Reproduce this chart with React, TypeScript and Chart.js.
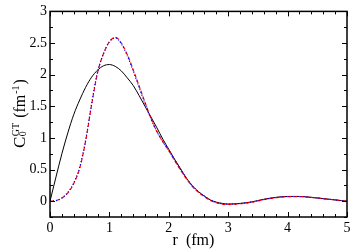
import { useEffect, useRef } from "react";
import { Chart, registerables } from "chart.js";

Chart.register(...registerables);

const rFine = [
  0, 0.1, 0.2, 0.3, 0.4, 0.5, 0.6, 0.7, 0.8, 0.9, 1.0, 1.1, 1.2, 1.3, 1.4, 1.5,
  1.6, 1.7, 1.8, 1.9, 2.0, 2.1, 2.2, 2.3, 2.4, 2.5, 2.6, 2.7, 2.8, 2.9, 3.0,
  3.2, 3.4, 3.6, 3.8, 4.0, 4.2, 4.4, 4.6, 4.8, 5.0,
];

const cBlack = [
  0, 0.38, 0.75, 1.08, 1.37, 1.6, 1.8, 1.96, 2.07, 2.14, 2.16, 2.13, 2.06, 1.95,
  1.83, 1.67, 1.5, 1.33, 1.16, 0.98, 0.82, 0.66, 0.51, 0.36, 0.24, 0.15, 0.08,
  0.02, -0.015, -0.035, -0.045, -0.035, -0.01, 0.03, 0.06, 0.075, 0.075, 0.06,
  0.04, 0.02, 0.0,
];

const cRed = [
  0, 0.01, 0.05, 0.13, 0.28, 0.52, 0.95, 1.52, 2.03, 2.33, 2.52, 2.59, 2.5, 2.32,
  2.08, 1.82, 1.56, 1.31, 1.1, 0.94, 0.8, 0.64, 0.49, 0.35, 0.23, 0.14, 0.07,
  0.01, -0.025, -0.045, -0.05, -0.04, -0.015, 0.025, 0.055, 0.072, 0.073, 0.06,
  0.04, 0.02, 0.0,
];

const cBlue = [
  0, 0.01, 0.05, 0.14, 0.29, 0.54, 0.97, 1.54, 2.04, 2.33, 2.52, 2.58, 2.49, 2.3,
  2.06, 1.8, 1.54, 1.3, 1.1, 0.94, 0.8, 0.65, 0.5, 0.36, 0.24, 0.15, 0.08, 0.02,
  -0.02, -0.04, -0.047, -0.038, -0.013, 0.027, 0.057, 0.073, 0.074, 0.06, 0.04,
  0.02, 0.0,
];

const xTickValues = [0, 1, 2, 3, 4, 5];
const yTickValues = [0, 0.5, 1, 1.5, 2, 2.5, 3];
const xMinorStep = 0.2;
const yMinorStep = 0.25;

const SERIF = "'Liberation Serif', 'Times New Roman', Times, serif";

const toPoints = (xs: number[], ys: number[]) => xs.map((x, i) => ({ x, y: ys[i] }));

const framePlugin = {
  id: "frameTicks",
  afterDatasetsDraw(chart: any) {
    const { ctx, chartArea: a, scales } = chart;
    const xs = scales.x;
    const ys = scales.y;
    ctx.save();
    ctx.strokeStyle = "#000";
    ctx.lineWidth = 1;
    ctx.beginPath();
    const nx = Math.round((xs.max - xs.min) / xMinorStep);
    for (let i = 0; i <= nx; i++) {
      const v = xs.min + i * xMinorStep;
      const major = Math.abs(v - Math.round(v)) < 1e-6;
      const L = major ? 5 : 3;
      const px = Math.round(xs.getPixelForValue(v)) + 0.5;
      ctx.moveTo(px, a.bottom);
      ctx.lineTo(px, a.bottom - L);
      ctx.moveTo(px, a.top);
      ctx.lineTo(px, a.top + L);
    }
    const ny = Math.round((ys.max - ys.min) / yMinorStep);
    for (let i = 0; i <= ny; i++) {
      const v = ys.min + i * yMinorStep;
      const major = Math.abs(v * 2 - Math.round(v * 2)) < 1e-6;
      const L = major ? 5 : 3;
      const py = Math.round(ys.getPixelForValue(v)) + 0.5;
      ctx.moveTo(a.left, py);
      ctx.lineTo(a.left + L, py);
      ctx.moveTo(a.right, py);
      ctx.lineTo(a.right - L, py);
    }
    ctx.stroke();
    ctx.lineWidth = 1.5;
    ctx.strokeRect(a.left, a.top, a.right - a.left, a.bottom - a.top);

    // x title
    ctx.fillStyle = "#000";
    ctx.font = `16px ${SERIF}`;
    ctx.textAlign = "center";
    ctx.textBaseline = "alphabetic";
    ctx.fillText("r  (fm)", (a.left + a.right) / 2 - 5, 245);

    // y title with sub/superscripts, rotated
    ctx.translate(25, 148);
    ctx.rotate(-Math.PI / 2);
    ctx.textAlign = "left";
    let x = 0;
    ctx.font = `17px ${SERIF}`;
    ctx.fillText("C", x, 0);
    x += ctx.measureText("C").width + 0.5;
    ctx.font = `10px ${SERIF}`;
    ctx.fillText("0", x, 1);
    ctx.fillText("GT", x, -6);
    x += ctx.measureText("GT").width + 1;
    ctx.font = `16px ${SERIF}`;
    ctx.fillText(" (fm", x, 0);
    x += ctx.measureText(" (fm").width + 1;
    ctx.font = `10px ${SERIF}`;
    ctx.fillText("-1", x, -6);
    x += ctx.measureText("-1").width + 1;
    ctx.font = `16px ${SERIF}`;
    ctx.fillText(")", x, 0);
    ctx.restore();
  },
};

export default function App() {
  const ref = useRef<HTMLCanvasElement | null>(null);

  useEffect(() => {
    if (!ref.current) return;
    Chart.defaults.font.family = SERIF;
    const chart = new Chart(ref.current, {
      type: "line",
      data: {
        datasets: [
          {
            label: "black",
            data: toPoints(rFine, cBlack),
            borderColor: "#000000",
            borderWidth: 1,
            pointRadius: 0,
            cubicInterpolationMode: "monotone",
            order: 3,
          },
          {
            label: "red",
            data: toPoints(rFine, cRed),
            borderColor: "#ff0000",
            borderWidth: 1.2,
            borderDash: [4, 2],
            pointRadius: 0,
            cubicInterpolationMode: "monotone",
            order: 2,
          },
          {
            label: "blue",
            data: toPoints(rFine, cBlue),
            borderColor: "#0000ff",
            borderWidth: 1.2,
            borderDash: [1, 2],
            pointRadius: 0,
            cubicInterpolationMode: "monotone",
            order: 1,
          },
        ],
      },
      options: {
        animation: false,
        responsive: false,
        maintainAspectRatio: false,
        layout: { padding: { left: 0, top: 11, right: 8, bottom: 0 } },
        plugins: {
          legend: { display: false },
          tooltip: { enabled: false },
        },
        scales: {
          x: {
            type: "linear",
            min: 0,
            max: 5,
            grid: { display: false, drawTicks: false },
            border: { display: false },
            afterBuildTicks: (s: any) => {
              s.ticks = xTickValues.map((v) => ({ value: v }));
            },
            afterFit: (s: any) => {
              s.height = 32;
            },
            ticks: {
              color: "#000",
              padding: 3,
              maxRotation: 0,
              autoSkip: false,
              font: { family: SERIF, size: 14 },
              callback: (v: any) => String(v),
            },
          },
          y: {
            type: "linear",
            min: -0.25,
            max: 3,
            grid: { display: false, drawTicks: false },
            border: { display: false },
            afterBuildTicks: (s: any) => {
              s.ticks = yTickValues.map((v) => ({ value: v }));
            },
            afterFit: (s: any) => {
              s.width = 50;
            },
            ticks: {
              color: "#000",
              padding: 3,
              autoSkip: false,
              font: { family: SERIF, size: 14 },
              callback: (v: any) => String(v),
            },
          },
        },
      },
      plugins: [framePlugin],
    });
    return () => {
      chart.destroy();
    };
  }, []);

  return (
    <div style={{ position: "fixed", left: 0, top: 0, width: 355, height: 249, background: "#fff", fontFamily: SERIF }}>
      <canvas ref={ref} width={355} height={249} style={{ width: 355, height: 249, display: "block" }} />
    </div>
  );
}
